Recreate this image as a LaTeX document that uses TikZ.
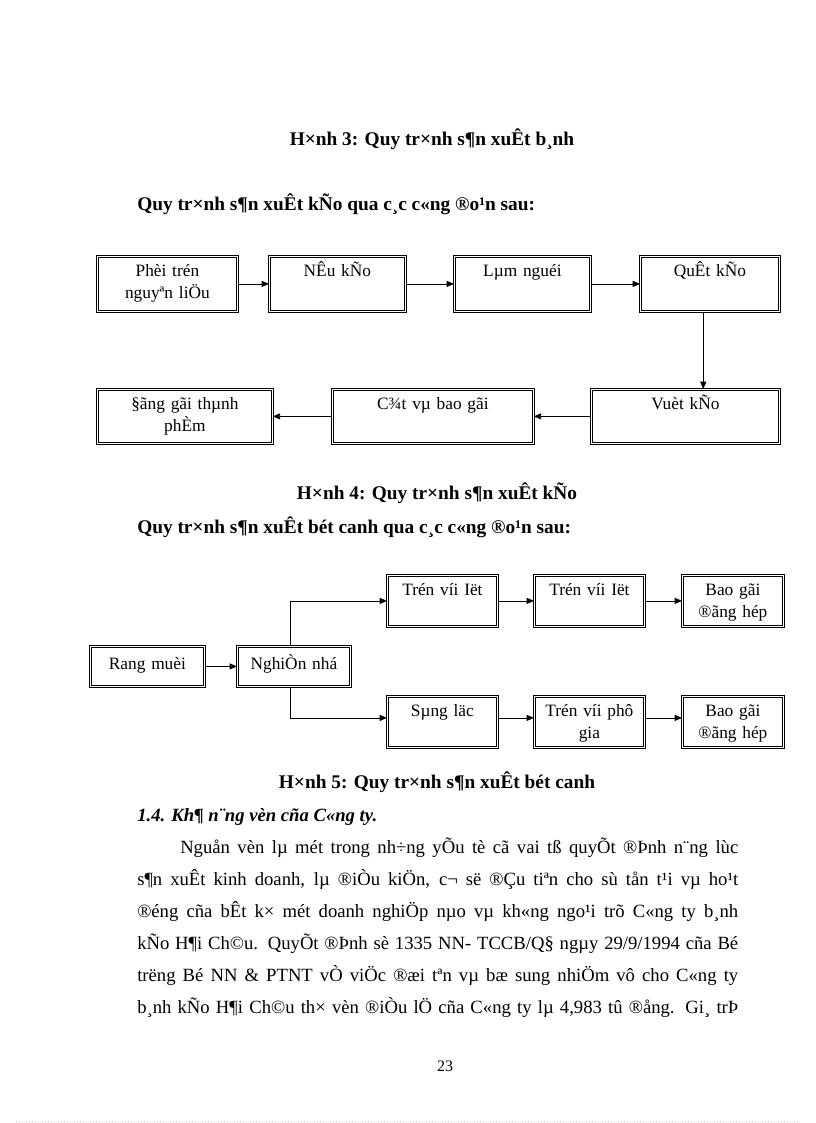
\documentclass[tikz,border=0pt]{standalone}
\usepackage{fontspec}
\setmainfont{Liberation Serif}
\usetikzlibrary{arrows.meta}

\newcommand{\boxfont}{\fontsize{13}{16.5}\selectfont}
\newcommand{\headfont}{\fontsize{14.5}{17}\selectfont\bfseries}
\newcommand{\bodyfont}{\fontsize{14}{17}\selectfont}

\begin{document}
\begin{tikzpicture}[x=0.75pt, y=-0.75pt,
    kbox/.style 2 args={draw, double, line width=0.6pt, double distance=1.2pt,
        inner sep=0pt, anchor=north west, text width=#1, text height=15pt,
        text depth=#2, align=center, font=\boxfont},
    arr/.style={-{Triangle[length=5.5pt,width=4.5pt]}, line width=0.6pt},
    head/.style={anchor=base, inner sep=0pt, font=\headfont},
    line/.style={anchor=base west, inner sep=0pt, font=\bodyfont}]
    \useasboundingbox (0,0) rectangle (816,1123);
    \node[head] (h3) at (432,146) {H×nh 3: Quy tr×nh s¶n xuÊt b¸nh};
    \node[head, anchor=base west] (q1) at (137,210) {Quy tr×nh s¶n xuÊt kÑo qua c¸c c«ng ®o¹n sau:};
    \node[kbox={105pt}{26.25pt}] (phoi) at (97,256) {Phèi trén\\nguyªn liÖu};
    \node[kbox={102pt}{26.25pt}] (nau) at (269,256) {NÊu kÑo};
    \node[kbox={102pt}{26.25pt}] (lam) at (454,256) {Lµm nguéi};
    \node[kbox={104.25pt}{26.25pt}] (quat) at (640,256) {QuÊt kÑo};
    \node[kbox={131.25pt}{25.5pt}] (dong) at (97,389) {§ãng gãi thµnh\\phÈm};
    \node[kbox={150.75pt}{25.5pt}] (cat) at (332,389) {C¾t vµ bao gãi};
    \node[kbox={141pt}{25.5pt}] (vuot) at (591,389) {Vuèt kÑo};
    \draw[arr] (phoi) -- (nau);
    \draw[arr] (nau) -- (lam);
    \draw[arr] (lam) -- (quat);
    \draw[arr] ([xshift=-5pt]quat.south) -- ([xshift=-5pt]quat.south |- vuot.north);
    \draw[arr] (vuot) -- (cat);
    \draw[arr] (cat) -- (dong);
    \node[head] (h4) at (437,499) {H×nh 4: Quy tr×nh s¶n xuÊt kÑo};
    \node[head, anchor=base west] (q2) at (137,533) {Quy tr×nh s¶n xuÊt bét canh qua c¸c c«ng ®o¹n sau:};
    \node[kbox={85.5pt}{12.75pt}, text height=17.25pt] (rang) at (90,646) {Rang muèi};
    \node[kbox={84.75pt}{12.75pt}, text height=17.25pt] (nghien) at (237,646) {NghiÒn nhá};
    \node[kbox={82.5pt}{23.25pt}] (tron1) at (387,575) {Trén víi Iët};
    \node[kbox={82.5pt}{23.25pt}] (tron2) at (534,575) {Trén víi Iët};
    \node[kbox={75.75pt}{23.25pt}] (bao1) at (682,575) {Bao gãi\\®ãng hép};
    \node[kbox={82.5pt}{23.25pt}] (sang) at (387,696) {Sµng läc};
    \node[kbox={82.5pt}{23.25pt}] (phu) at (534,696) {Trén víi phô\\gia};
    \node[kbox={75.75pt}{23.25pt}] (bao2) at (682,696) {Bao gãi\\®ãng hép};
    \draw[arr] (rang) -- (nghien);
    \draw[arr] ([xshift=-3pt]nghien.north) |- (tron1.west);
    \draw[arr] ([xshift=-3pt]nghien.south) |- ([yshift=3pt]sang.west);
    \draw[arr] (tron1) -- (tron2);
    \draw[arr] (tron2) -- (bao1);
    \draw[arr] ([yshift=3pt]sang.east) -- ([yshift=3pt]phu.west);
    \draw[arr] ([yshift=3pt]phu.east) -- ([yshift=3pt]bao2.west);
    \node[head] (h5) at (437,788) {H×nh 5: Quy tr×nh s¶n xuÊt bét canh};
    \node[head, anchor=base west, font=\fontsize{14}{17}\selectfont\bfseries\itshape] (sec) at (137,821) {1.4. Kh¶ n¨ng vèn cña C«ng ty.};
    \node[line] (p1) at (180,853) {\makebox[418.5pt][s]{Nguån vèn lµ mét trong nh÷ng yÕu tè cã vai tß quyÕt ®Þnh n¨ng lùc}};
    \node[line] (p2) at (137,885) {\makebox[450.75pt][s]{s¶n xuÊt kinh doanh, lµ ®iÒu kiÖn, c¬ së ®Çu tiªn cho sù tån t¹i vµ ho¹t}};
    \node[line] (p3) at (137,917) {\makebox[450.75pt][s]{®éng cña bÊt k× mét doanh nghiÖp nµo vµ kh«ng ngo¹i trõ C«ng ty b¸nh}};
    \node[line] (p4) at (137,949) {\makebox[450.75pt][s]{kÑo H¶i Ch©u. QuyÕt ®Þnh sè 1335 NN- TCCB/Q§ ngµy 29/9/1994 cña Bé}};
    \node[line] (p5) at (137,981) {\makebox[450.75pt][s]{trëng Bé NN \& PTNT vÒ viÖc ®æi tªn vµ bæ sung nhiÖm vô cho C«ng ty}};
    \node[line] (p6) at (137,1013) {\makebox[450.75pt][s]{b¸nh kÑo H¶i Ch©u th× vèn ®iÒu lÖ cña C«ng ty lµ 4,983 tû ®ång. Gi¸ trÞ}};
    \node[anchor=base, inner sep=0pt, font=\fontsize{12}{14}\selectfont] (pg) at (445,1071) {23};
    \draw[gray!40, dotted, line width=0.4pt] (16,1121) -- (800,1121);
\end{tikzpicture}
\end{document}
